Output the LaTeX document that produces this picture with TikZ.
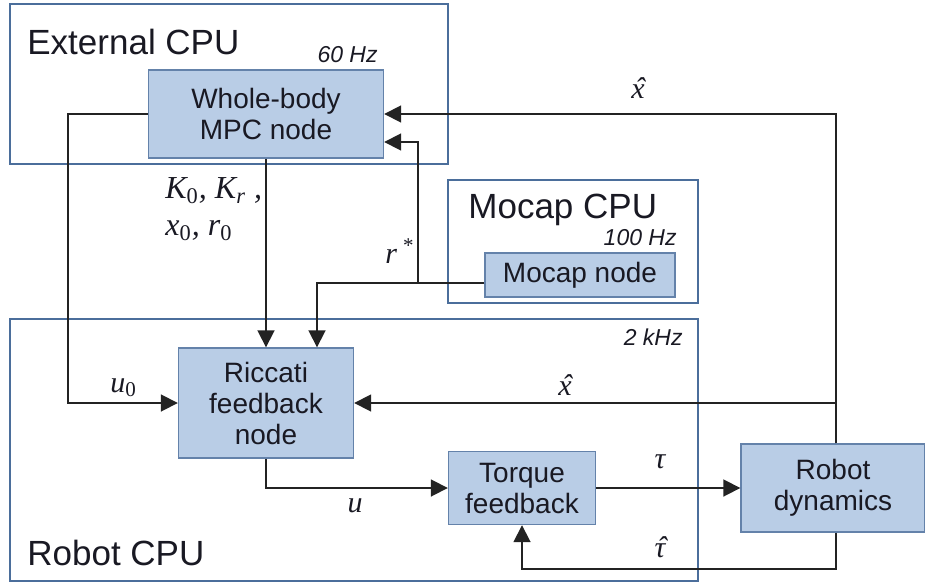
\documentclass[tikz,border=0pt]{standalone}
\usepackage{fontspec}
\setmainfont{Liberation Sans}
\newfontfamily\lsf{Liberation Serif}
\usetikzlibrary{arrows.meta,calc}
\definecolor{nfill}{RGB}{185,205,230}
\definecolor{nborder}{RGB}{100,130,170}
\definecolor{cpuborder}{RGB}{75,110,155}
\definecolor{linec}{RGB}{35,35,35}
\definecolor{txt}{RGB}{25,25,35}
\newcommand\myhat[1]{\ooalign{#1\cr\hidewidth\kern0.12em ˆ\hidewidth\cr}}
\begin{document}
\begin{tikzpicture}[x=0.5pt,y=-0.5pt,
 blk/.style={draw=nborder,line width=0.7pt,fill=nfill,inner sep=0pt,align=center,font=\fontsize{14}{15.5}\selectfont,text=txt},
 cpu/.style={draw=cpuborder,line width=0.8pt},
 arr/.style={draw=linec,line width=0.9pt,-{Triangle[length=8.5pt,width=8.5pt]}},
 big/.style={font=\fontsize{17.5}{20}\selectfont,text=txt,inner sep=0pt,anchor=base west},
 hz/.style={font=\fontsize{11.5}{13}\selectfont\itshape,text=txt,inner sep=0pt,anchor=base east},
 lbl/.style={font=\fontsize{15}{18.5}\selectfont\lsf\itshape,text=txt,inner sep=0pt,anchor=base},
]
\useasboundingbox (0,0) rectangle (925,583);
% CPU containers
\draw[cpu] (10,4) rectangle (448,164);
\draw[cpu] (448,180) rectangle (698,303);
\draw[cpu] (10,319) rectangle (698,581);
% titles
\node[big] (extl) at (27,55) {External CPU};
\node[hz] (hz60) at (378,63) {60 Hz};
\node[big] (mocl) at (468,218) {Mocap CPU};
\node[hz] (hz100) at (677,245) {100 Hz};
\node[hz] (hz2k) at (683,345) {2 kHz};
\node[big] (robl) at (27,565) {Robot CPU};
% blocks
\node[blk,minimum width=117.5pt,minimum height=44pt] (mpc) at (266,114) {Whole-body\\MPC node};
\node[blk,minimum width=87.5pt,minimum height=55pt] (ric) at (266,403) {Riccati\\feedback\\node};
\node[blk,minimum width=73.5pt,minimum height=36.5pt] (tq) at (522,488) {Torque\\feedback};
\node[blk,minimum width=92pt,minimum height=44pt] (rd) at (833,488) {Robot\\dynamics};
\node[blk,minimum width=95pt,minimum height=22pt] (moc) at (580,275) {Mocap node};
% junctions
\coordinate (rstar) at (418,283);
\coordinate (xr) at (836,114);
% connectors
\draw[arr] (mpc) -- (ric);
\draw[arr] (moc.west |- rstar) -| ($(ric.north)+(51,0)$);
\draw[arr] (rstar) |- ($(mpc.east)+(0,28)$);
\draw[arr] (rd.north -| xr) -- (xr) -- (mpc.east);
\draw[arr] (rd.north -| xr) |- (ric.east);
\draw[arr] (mpc.west) -- ++(-80,0) |- (ric.west);
\draw[arr] (ric.south) |- (tq.west);
\draw[arr] (tq.east) -- (rd.west);
\draw[arr] (rd.south -| xr) -- ++(0,36) -| (tq.south);
% signal labels
\node[lbl,font=\fontsize{16}{18.5}\selectfont\lsf\itshape,align=left,anchor=base west] (klbl) at (165,235) {K\textsubscript{\upshape 0}, K\textsubscript{r} ,\\x\textsubscript{\upshape 0}, r\textsubscript{\upshape 0}};
\node[lbl,anchor=base west] (rs) at (385,263) {r\,\textsuperscript{*}};
\node[lbl,anchor=base west] (u0l) at (110,392) {u\textsubscript{\upshape 0}};
\node[lbl] (xh1) at (565,395) {\myhat{x}};
\node[lbl] (xh2) at (638,98) {\myhat{x}};
\node[lbl] (ul) at (355,512) {u};
\node[lbl] (taul) at (660,468) {τ};
\node[lbl] (tauh) at (660,557) {\myhat{τ}};
\end{tikzpicture}
\end{document}
